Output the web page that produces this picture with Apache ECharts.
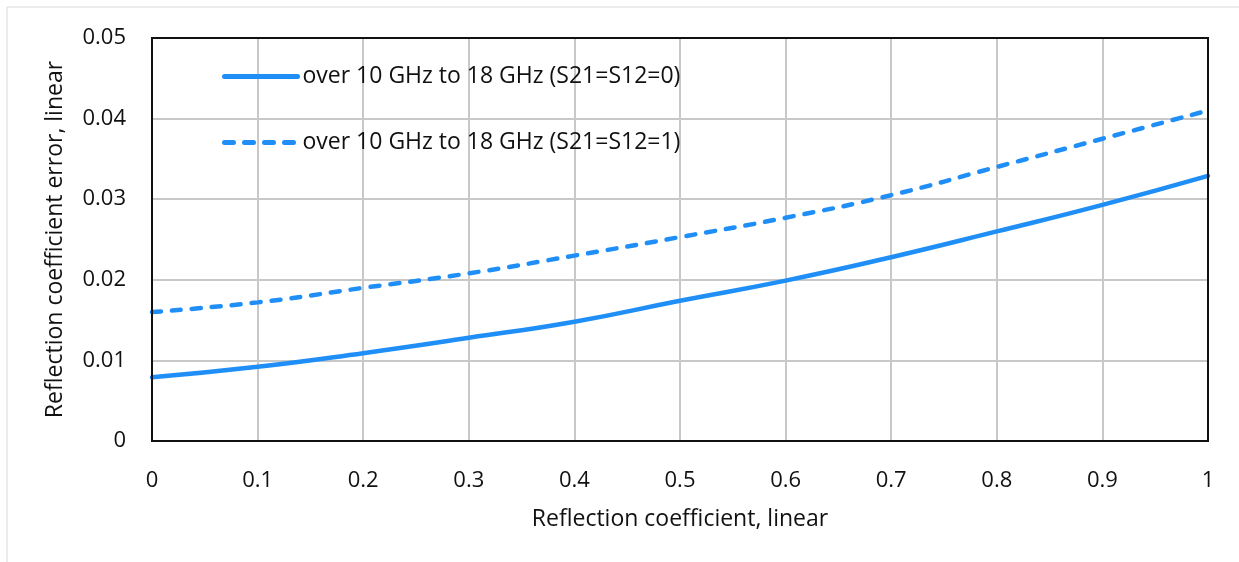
<!DOCTYPE html>
<html><head><meta charset="utf-8">
<script src="https://cdn.jsdelivr.net/npm/echarts@6/dist/echarts.min.js"></script>
<style>html,body{margin:0;padding:0;background:#fff}#c{width:1239px;height:562px}</style>
</head><body><div id="c"></div>
<script>
const xValues = [0, 0.1, 0.2, 0.3, 0.4, 0.5, 0.6, 0.7, 0.8, 0.9, 1.0];
const solidValues = [0.0079, 0.0092, 0.0109, 0.0128, 0.0148, 0.0174, 0.0199, 0.0228, 0.0260, 0.0293, 0.0329];
const dashedValues = [0.0160, 0.0172, 0.0190, 0.0208, 0.0230, 0.0253, 0.0277, 0.0305, 0.0340, 0.0375, 0.0410];
const seriesNames = ['over 10 GHz to 18 GHz (S21=S12=0)', 'over 10 GHz to 18 GHz (S21=S12=1)'];
const xName = 'Reflection coefficient, linear';
const yName = 'Reflection coefficient error, linear';

const FONT = 'Open Sans';
const TXT = '#111';
const color = '#1f8ff7';
const chart = echarts.init(document.getElementById('c'), null, {renderer: 'canvas'});
chart.setOption({
  backgroundColor: '#fff',
  animation: false,
  textStyle: {fontFamily: FONT},
  grid: {left: 152, right: 31, top: 38, bottom: 121, containLabel: false},
  legend: {
    orient: 'vertical', left: 217, top: 60, itemWidth: 73, itemHeight: 14, itemGap: 43,
    textStyle: {fontFamily: FONT, fontSize: 23, color: TXT},
    itemStyle: {opacity: 0},
    lineStyle: {width: 5},
    data: seriesNames
  },
  xAxis: {
    type: 'value', min: 0, max: 1, interval: 0.1,
    name: xName, nameLocation: 'middle', nameGap: 67,
    nameTextStyle: {fontFamily: FONT, fontSize: 23, color: TXT},
    axisLine: {show: true, lineStyle: {color: '#111', width: 2}},
    axisTick: {show: false},
    axisLabel: {fontFamily: FONT, fontSize: 22, color: TXT, margin: 29,
      formatter: v => (v === 0 ? '0' : v === 1 ? '1' : v.toFixed(1))},
    splitLine: {show: true, lineStyle: {color: '#c8c8c8', width: 2}}
  },
  yAxis: {
    type: 'value', min: 0, max: 0.05, interval: 0.01,
    name: yName, nameLocation: 'middle', nameGap: 85, nameRotate: 90,
    nameTextStyle: {fontFamily: FONT, fontSize: 23, color: TXT},
    axisLine: {show: true, lineStyle: {color: '#111', width: 2}},
    axisTick: {show: false},
    axisLabel: {fontFamily: FONT, fontSize: 22, color: TXT, margin: 26,
      formatter: v => (v === 0 ? '0' : v.toFixed(2))},
    splitLine: {show: true, lineStyle: {color: '#c8c8c8', width: 2}}
  },
  series: [
    {name: seriesNames[0], type: 'line', smooth: true, symbol: 'none',
     data: xValues.map((x, i) => [x, solidValues[i]]),
     lineStyle: {color: color, width: 4.5, cap: 'round'}, itemStyle: {color: color}},
    {name: seriesNames[1], type: 'line', smooth: true, symbol: 'none',
     data: xValues.map((x, i) => [x, dashedValues[i]]),
     lineStyle: {color: color, width: 4.5, type: [9, 11], cap: 'round'}, itemStyle: {color: color}}
  ]
});
// plot frame from the library's own scale
const p0 = chart.convertToPixel({gridIndex: 0}, [0, 0]);
const p1 = chart.convertToPixel({gridIndex: 0}, [1, 0.05]);
chart.setOption({
  graphic: [
    {type: 'line', shape: {x1: 7, y1: 7, x2: 1239, y2: 7}, style: {stroke: '#d8d8d8', lineWidth: 1}, silent: true},
    {type: 'line', shape: {x1: 7, y1: 7, x2: 7, y2: 562}, style: {stroke: '#d8d8d8', lineWidth: 1}, silent: true},
    {type: 'rect', z: 100, silent: true,
     shape: {x: p0[0], y: p1[1], width: p1[0] - p0[0], height: p0[1] - p1[1]},
     style: {fill: 'none', stroke: '#111', lineWidth: 2}}
  ]
});
</script></body></html>
